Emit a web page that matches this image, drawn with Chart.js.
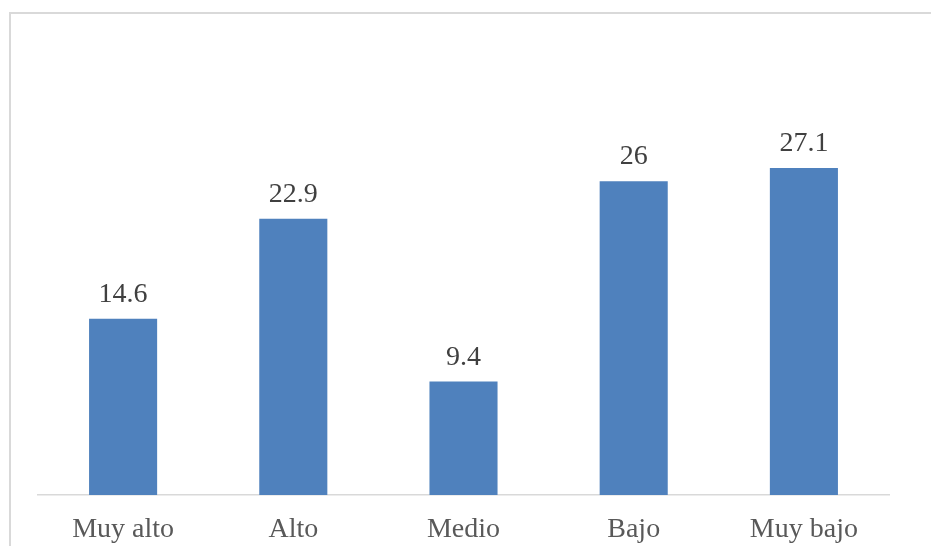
<!DOCTYPE html>
<html>
<head>
<meta charset="utf-8">
<script src="https://cdn.jsdelivr.net/npm/chart.js@4/dist/chart.umd.min.js"></script>
<style>
html,body{margin:0;padding:0;background:#fff;}
#wrap{width:931px;height:546px;position:relative;}
</style>
</head>
<body>
<div id="wrap"><canvas id="c" width="931" height="546"></canvas></div>
<script>
const categories = ["Muy alto", "Alto", "Medio", "Bajo", "Muy bajo"];
const values = [14.6, 22.9, 9.4, 26, 27.1];
const valueLabels = ["14.6", "22.9", "9.4", "26", "27.1"];

const FONT = '"Liberation Serif", "Times New Roman", serif';

const frame = {
  id: 'frame',
  beforeDraw(chart) {
    const ctx = chart.ctx;
    ctx.save();
    ctx.fillStyle = '#ffffff';
    ctx.fillRect(0, 0, chart.width, chart.height);
    ctx.strokeStyle = '#d9d9d9';
    ctx.lineWidth = 2;
    ctx.strokeRect(10, 13, 1000, 1000);
    ctx.restore();
  }
};

const dataLabels = {
  id: 'dataLabels',
  afterDatasetsDraw(chart) {
    const ctx = chart.ctx;
    const meta = chart.getDatasetMeta(0);
    ctx.save();
    ctx.font = '28px ' + FONT;
    ctx.fillStyle = '#404040';
    ctx.textAlign = 'center';
    ctx.textBaseline = 'alphabetic';
    meta.data.forEach((bar, i) => {
      ctx.fillText(valueLabels[i], bar.x, bar.y - 17);
    });
    ctx.restore();
  }
};

new Chart(document.getElementById('c'), {
  type: 'bar',
  data: {
    labels: categories,
    datasets: [{
      data: values,
      backgroundColor: '#4f81bd',
      borderWidth: 0,
      categoryPercentage: 1.0,
      barPercentage: 0.4
    }]
  },
  options: {
    responsive: false,
    animation: false,
    devicePixelRatio: 1,
    layout: { padding: { left: 38, right: 42, top: 133, bottom: 0 } },
    plugins: { legend: { display: false }, tooltip: { enabled: false } },
    scales: {
      x: {
        grid: { display: true, color: 'rgba(0,0,0,0)', drawTicks: false },
        border: { display: true, color: '#d9d9d9', width: 1.5 },
        ticks: { color: '#595959', font: { family: FONT, size: 28 }, padding: 18, maxRotation: 0 },
        afterFit(scale) { scale.height = 51; }
      },
      y: {
        display: false,
        min: 0,
        max: 30
      }
    }
  },
  plugins: [frame, dataLabels]
});
</script>
</body>
</html>
